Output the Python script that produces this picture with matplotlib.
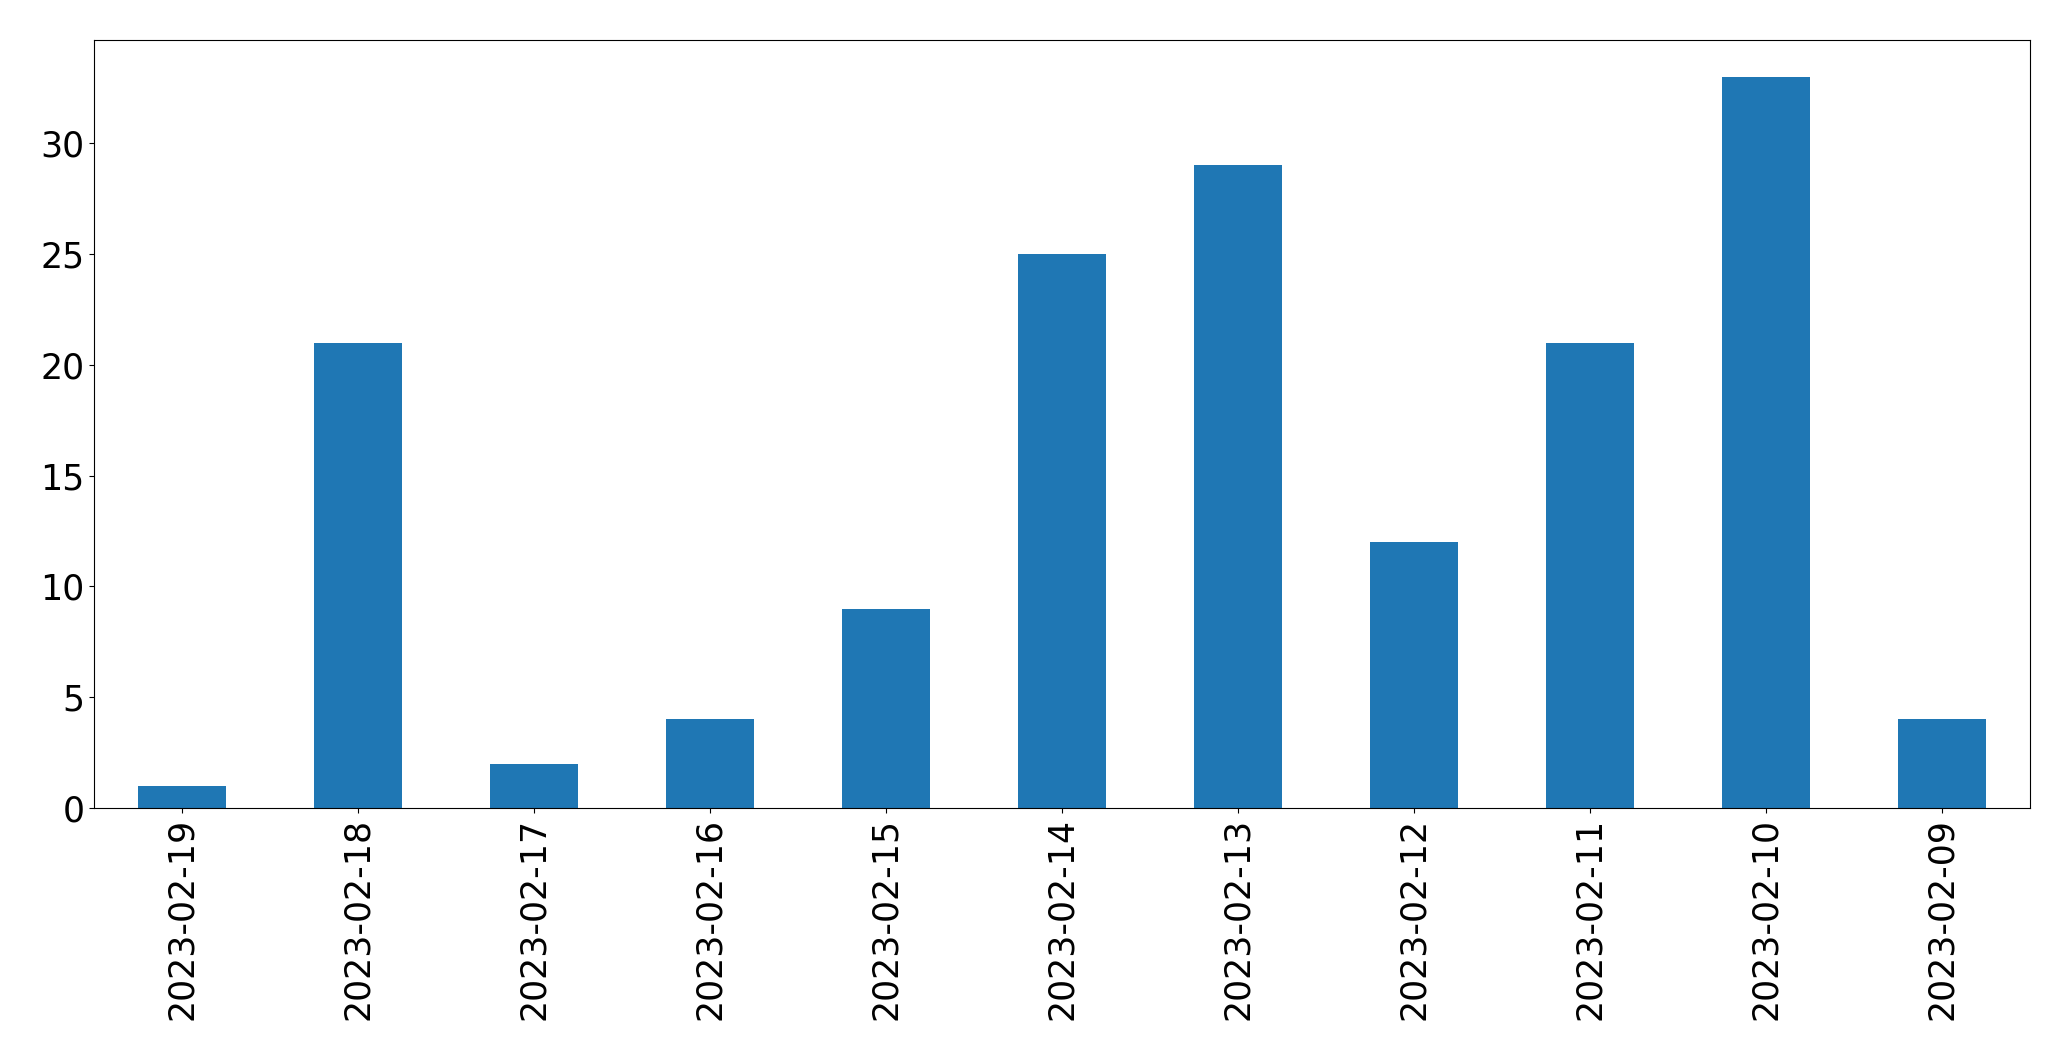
import matplotlib
matplotlib.use("Agg")
import matplotlib.pyplot as plt
import pandas as pd

dates = ["2023-02-19", "2023-02-18", "2023-02-17", "2023-02-16", "2023-02-15", "2023-02-14",
         "2023-02-13", "2023-02-12", "2023-02-11", "2023-02-10", "2023-02-09"]
counts = [1, 21, 2, 4, 9, 25, 29, 12, 21, 33, 4]

s = pd.Series(counts, index=dates)

fig = plt.figure(figsize=(20.71, 10.61), dpi=100)
ax = fig.add_axes([94 / 2071, 1 - 808 / 1061, (2030 - 94) / 2071, (808 - 40) / 1061])
s.plot(kind="bar", ax=ax, color="#1f77b4", width=0.5)
ax.tick_params(axis="both", labelsize=25)
fig.savefig("out.png", dpi=100)
